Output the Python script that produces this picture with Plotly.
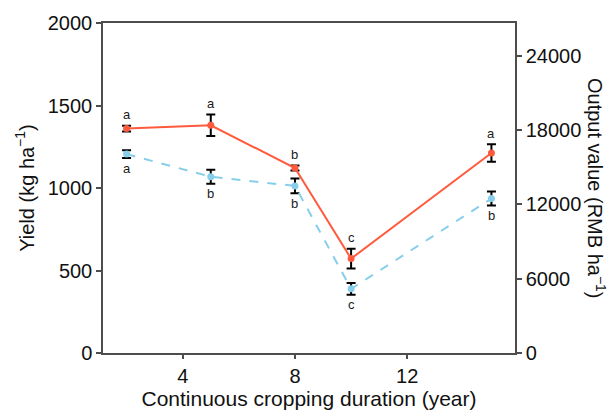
import plotly.graph_objects as go

years = [2, 5, 8, 10, 15]
yield_kg = [1360, 1380, 1121, 572, 1212]
yield_err = [18, 65, 15, 60, 53]
output_rmb = [16060, 14230, 13490, 5180, 12470]
output_err = [320, 570, 600, 480, 560]
yield_letters = ["a", "a", "b", "c", "a"]
output_letters = ["a", "b", "b", "c", "b"]
y2_ticks = [0, 6000, 12000, 18000, 24000]

red = "#FF5A3D"
blue = "#87CEEB"
axis_col = "#4D4D4D"
font_fam = "Liberation Sans, Arial, sans-serif"

fig = go.Figure()
fig.add_trace(go.Scatter(
    x=years, y=output_rmb, yaxis="y2", mode="lines+markers",
    line=dict(color=blue, width=2, dash="dash"),
    marker=dict(color=blue, size=7),
    error_y=dict(type="data", array=output_err, color="black", thickness=2, width=4.5),
    showlegend=False,
))
fig.add_trace(go.Scatter(
    x=years, y=yield_kg, mode="lines+markers",
    line=dict(color=red, width=2),
    marker=dict(color=red, size=7),
    error_y=dict(type="data", array=yield_err, color="black", thickness=2, width=4.5),
    showlegend=False,
))

for xv, yv, ev, t in zip(years, yield_kg, yield_err, yield_letters):
    fig.add_annotation(x=xv, y=yv + ev, xref="x", yref="y", text=t, showarrow=False,
                       yshift=11, font=dict(size=13, color="#1a1a1a", family=font_fam))
for xv, yv, ev, t in zip(years, output_rmb, output_err, output_letters):
    fig.add_annotation(x=xv, y=yv - ev, xref="x", yref="y2", text=t, showarrow=False,
                       yshift=-10, font=dict(size=13, color="#1a1a1a", family=font_fam))

# right-hand title reads top-to-bottom
fig.add_annotation(x=1, y=0.5, xref="paper", yref="paper", xanchor="center", yanchor="middle",
                   xshift=82, text="Output value (RMB ha<sup>−1</sup>)", textangle=90,
                   showarrow=False, font=dict(size=20, color="#111111", family=font_fam))

axis_common = dict(showline=True, linecolor=axis_col, linewidth=1.5, ticks="outside",
                   tickcolor=axis_col, tickwidth=1.5, showgrid=False, zeroline=False,
                   tickfont=dict(size=20, color="#111111", family=font_fam))

fig.update_layout(
    width=614, height=418,
    margin=dict(l=103, r=99, t=18, b=54),
    plot_bgcolor="white", paper_bgcolor="white",
    font=dict(family=font_fam, color="#111111"),
    xaxis=dict(range=[1.16, 15.84], tickvals=[4, 8, 12], ticklen=4, mirror=True,
               title=dict(text="Continuous cropping duration (year)", font=dict(size=21), standoff=5),
               **axis_common),
    yaxis=dict(range=[0, 2000], tickvals=[0, 500, 1000, 1500, 2000], ticklen=5,
               title=dict(text="Yield (kg ha<sup>−1</sup>)", font=dict(size=20), standoff=8),
               **axis_common),
    yaxis2=dict(range=[0, 26645], tickvals=y2_ticks, ticktext=[str(v) for v in y2_ticks],
                ticklen=5, overlaying="y", side="right",
                **axis_common),
)

fig.write_html("out.html")
